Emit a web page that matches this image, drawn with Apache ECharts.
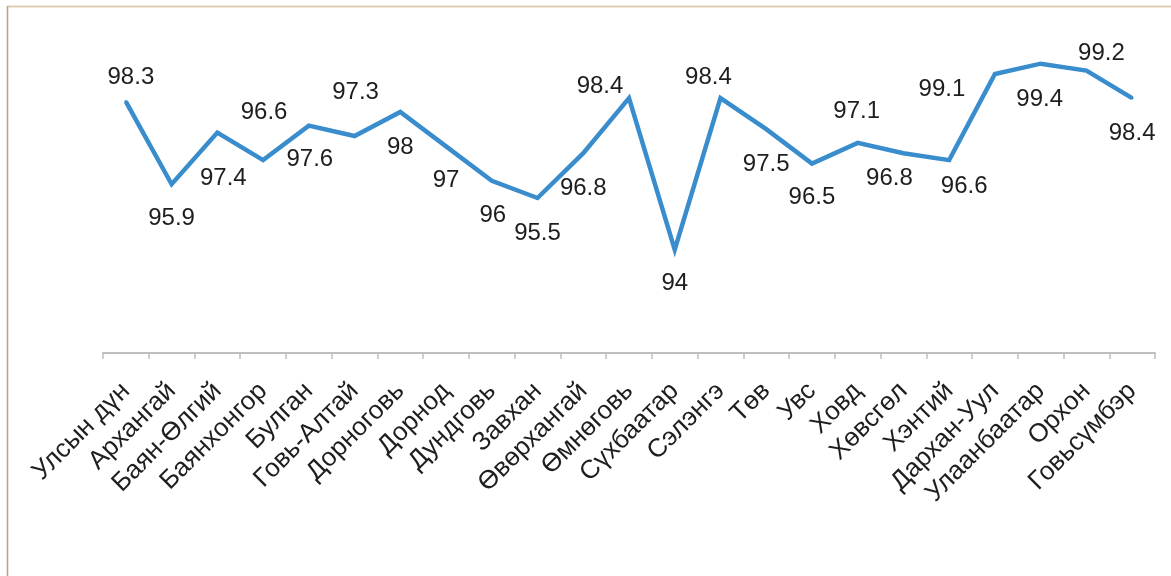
<!DOCTYPE html>
<html>
<head>
<meta charset="utf-8">
<script src="https://cdn.jsdelivr.net/npm/echarts@6/dist/echarts.min.js"></script>
<style>
  html, body { margin: 0; padding: 0; background: #ffffff; }
  #chart { width: 1171px; height: 576px; }
</style>
</head>
<body>
<div id="chart"></div>
<script>
// ---- data ----
const categories = [
  'Улсын дүн', 'Архангай', 'Баян-Өлгий', 'Баянхонгор', 'Булган', 'Говь-Алтай',
  'Дорноговь', 'Дорнод', 'Дундговь', 'Завхан', 'Өвөрхангай', 'Өмнөговь',
  'Сүхбаатар', 'Сэлэнгэ', 'Төв', 'Увс', 'Ховд', 'Хөвсгөл', 'Хэнтий',
  'Дархан-Уул', 'Улаанбаатар', 'Орхон', 'Говьсүмбэр'
];
const values = [
  98.3, 95.9, 97.4, 96.6, 97.6, 97.3, 98, 97, 96, 95.5, 96.8, 98.4,
  94, 98.4, 97.5, 96.5, 97.1, 96.8, 96.6, 99.1, 99.4, 99.2, 98.4
];

// ---- label placement (layout only, px offsets from each point) ----
const labelOffsets = [
  [5, -24], [0, 34], [6, 46], [1, -48], [1, 34], [1, -44],
  [0, 35], [0, 34], [1, 35], [0, 35], [0, 35], [-29, -12],
  [0, 34], [-12, -21], [0, 35], [0, 34], [-1, -32], [-14, 25],
  [15, 26], [-53, 15], [-1, 36], [15, -17], [0, 35]
];

const FONT = '"Liberation Sans", Arial, sans-serif';

const chart = echarts.init(document.getElementById('chart'), null, { renderer: 'canvas' });
chart.setOption({
  backgroundColor: '#ffffff',
  animation: false,
  grid: { left: 103, right: 16, top: 43, bottom: 223, containLabel: false },
  xAxis: {
    type: 'category',
    data: categories,
    boundaryGap: true,
    axisLine: { show: true, lineStyle: { color: '#bfbfbf', width: 2 } },
    axisTick: { show: true, length: 6, lineStyle: { color: '#bfbfbf', width: 1.5 } },
    splitLine: { show: false },
    axisLabel: {
      interval: 0,
      rotate: 45,
      margin: 34,
      color: '#1e1e1e',
      fontSize: 26,
      fontFamily: FONT
    }
  },
  yAxis: {
    type: 'value',
    min: 91,
    max: 100,
    show: false,
    splitLine: { show: false }
  },
  series: [{
    type: 'line',
    data: values,
    symbol: 'circle',
    symbolSize: 3,
    showSymbol: true,
    itemStyle: { color: '#3a8dcd' },
    lineStyle: { color: '#3a8dcd', width: 4.5, join: 'miter' },
    label: {
      show: true,
      position: 'inside',
      align: 'center',
      verticalAlign: 'middle',
      color: '#1e1e1e',
      fontSize: 24,
      fontFamily: FONT
    },
    labelLayout: function (params) {
      const o = labelOffsets[params.dataIndex] || [0, 0];
      return { dx: o[0], dy: o[1], hideOverlap: false };
    }
  }],
  graphic: [
    { type: 'line', shape: { x1: 7, y1: 6.5, x2: 1171, y2: 6.5 }, style: { stroke: '#ddd0b2', lineWidth: 2 } },
    { type: 'line', shape: { x1: 7.5, y1: 6, x2: 7.5, y2: 576 }, style: { stroke: '#b8a57d', lineWidth: 1.5 } }
  ]
});
</script>
</body>
</html>
